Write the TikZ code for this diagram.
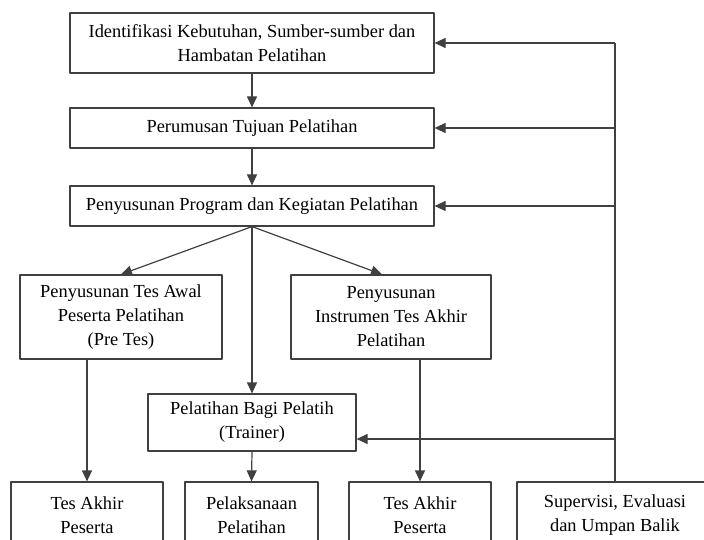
\documentclass[tikz,border=0pt]{standalone}
\usepackage{fontspec}
\setmainfont{Liberation Serif}
\usetikzlibrary{arrows.meta}
\tikzset{kotak/.style={draw=black!75,line width=0.6pt,align=center,inner sep=0pt,font=\fontsize{9.2}{12}\selectfont}}
\begin{document}
\begin{tikzpicture}[x=0.5pt,y=-0.5pt,line join=round,>={Triangle[length=5.5pt,width=5pt]}]
\useasboundingbox (0,0) rectangle (704,539);
% baris atas
\node[kotak,minimum width=182pt,minimum height=30pt] (idn) at (252,43) {Identifikasi Kebutuhan, Sumber-sumber dan\\Hambatan Pelatihan};
\node[kotak,minimum width=182pt,minimum height=20pt] (rum) at (252,128) {Perumusan Tujuan Pelatihan};
\node[kotak,minimum width=182pt,minimum height=20pt] (sus) at (252,206) {Penyusunan Program dan Kegiatan Pelatihan};
% baris tengah
\node[kotak,minimum width=101pt,minimum height=42pt] (pre) at (121,317) {Penyusunan Tes Awal\\Peserta Pelatihan\\(Pre Tes)};
\node[kotak,minimum width=100pt,minimum height=42pt] (ins) at (391,317) {Penyusunan\\Instrumen Tes Akhir\\Pelatihan};
\node[kotak,minimum width=104pt,minimum height=28.5pt] (tra) at (252,422.5) {Pelatihan Bagi Pelatih\\(Trainer)};
% baris bawah
\node[kotak,minimum width=76pt,minimum height=33pt] (ta1) at (87,515) {Tes Akhir\\Peserta};
\node[kotak,minimum width=66.5pt,minimum height=33pt] (pel) at (251.5,515) {Pelaksanaan\\Pelatihan};
\node[kotak,minimum width=71pt,minimum height=33pt] (ta2) at (420,515) {Tes Akhir\\Peserta};
\node[kotak,minimum width=98pt,minimum height=33pt] (sup) at (615,515) {Supervisi, Evaluasi\\dan Umpan Balik};
\begin{scope}[draw=black!75,line width=0.6pt]
\draw[->] (idn.south)--(rum.north);
\draw[->] (rum.south)--(sus.north);
\draw[->] (sus.south)--(pre.north);
\draw[->] (sus.south)--([xshift=-4.5pt]ins.north);
\draw[->] (sus.south)--(tra.north);
\draw[->] (pre.south -| ta1)--(ta1.north);
\draw[->] (tra.south)--(pel.north);
\draw[->] (ins.south -| ta2)--(ta2.north);
% umpan balik
\draw (sup.north)--(sup.north |- idn.east);
\foreach \k/\geser in {idn/0,rum/0,sus/0,tra/-8.25}
{\path ([yshift=\geser pt]\k.east) coordinate (ujung);
\draw[->] (sup.north |- ujung)--(ujung);}
\end{scope}
\end{tikzpicture}
\end{document}
